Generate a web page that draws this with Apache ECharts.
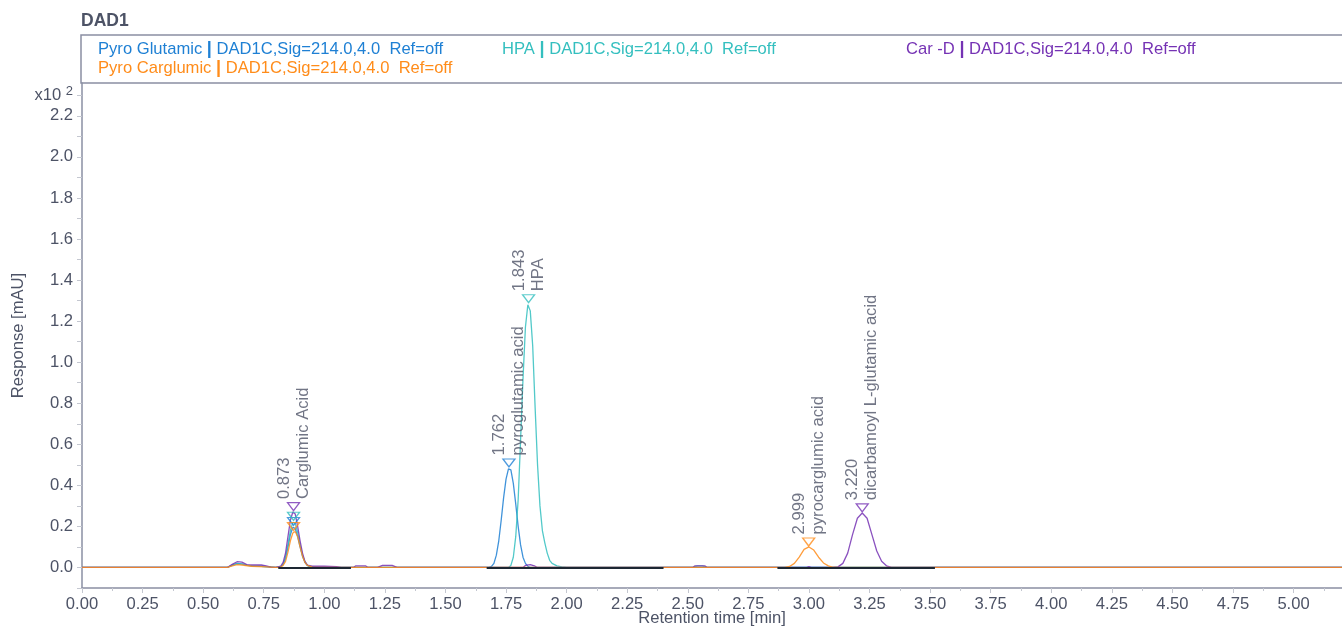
<!DOCTYPE html>
<html>
<head>
<meta charset="utf-8">
<title>DAD1</title>
<script src="https://cdn.jsdelivr.net/npm/echarts@6/dist/echarts.min.js"></script>
<style>
	html, body { margin: 0; padding: 0; background: #fff; }
	#chart { width: 1342px; height: 627px; }
</style>
</head>
<body>
<div id="chart"></div>
<script>
/*数据*/
// 保留时间 [min], 响应 [x10^2 mAU]
var pyroGlutamic = [
	[0, 0], [0.60, 0], [0.62, 0.012], [0.64, 0.02], [0.66, 0.018], [0.68, 0.01], [0.70, 0.008], [0.74, 0.006], [0.78, 0.002], [0.80, 0],
	[0.82, 0.004], [0.83, 0.015], [0.84, 0.045], [0.85, 0.10], [0.86, 0.16], [0.87, 0.195], [0.875, 0.20], [0.88, 0.19], [0.89, 0.15],
	[0.90, 0.10], [0.91, 0.055], [0.92, 0.025], [0.93, 0.01], [0.94, 0.003], [0.96, 0],
	[1.68, 0], [1.69, 0.005], [1.70, 0.02], [1.71, 0.06], [1.72, 0.13], [1.73, 0.23], [1.74, 0.34], [1.75, 0.43], [1.76, 0.48],
	[1.765, 0.485], [1.77, 0.475], [1.78, 0.41], [1.79, 0.31], [1.80, 0.20], [1.81, 0.11], [1.82, 0.05], [1.83, 0.02], [1.84, 0.006], [1.85, 0],
	[5.2, 0]
];
var hpa = [
	[0, 0], [0.60, 0], [0.62, 0.01], [0.64, 0.018], [0.66, 0.016], [0.70, 0.008], [0.76, 0.004], [0.80, 0],
	[0.82, 0.003], [0.83, 0.015], [0.84, 0.05], [0.85, 0.11], [0.86, 0.18], [0.87, 0.22], [0.875, 0.225], [0.88, 0.215], [0.89, 0.17],
	[0.90, 0.11], [0.91, 0.06], [0.92, 0.028], [0.93, 0.01], [0.95, 0.002], [0.97, 0],
	[1.76, 0], [1.77, 0.01], [1.78, 0.05], [1.79, 0.15], [1.80, 0.33], [1.81, 0.62], [1.82, 0.92], [1.83, 1.17], [1.84, 1.28],
	[1.845, 1.285], [1.85, 1.25], [1.86, 1.08], [1.87, 0.78], [1.88, 0.50], [1.89, 0.30], [1.90, 0.18], [1.91, 0.12], [1.92, 0.07],
	[1.93, 0.035], [1.94, 0.02], [1.96, 0.008], [1.98, 0.003], [2.00, 0],
	[2.52, 0], [2.54, 0.008], [2.56, 0.008], [2.58, 0],
	[5.2, 0]
];
var carD = [
	[0, 0], [0.60, 0], [0.62, 0.015], [0.64, 0.028], [0.66, 0.026], [0.68, 0.014], [0.70, 0.012], [0.74, 0.012], [0.76, 0.008], [0.78, 0.002], [0.80, 0],
	[0.82, 0.006], [0.83, 0.025], [0.84, 0.07], [0.85, 0.15], [0.86, 0.23], [0.87, 0.27], [0.875, 0.272], [0.88, 0.26], [0.89, 0.20],
	[0.90, 0.13], [0.91, 0.07], [0.92, 0.03], [0.93, 0.012], [0.95, 0.006], [1.00, 0.006], [1.05, 0.004], [1.07, 0],
	[1.12, 0], [1.13, 0.008], [1.17, 0.008], [1.18, 0], [1.22, 0], [1.24, 0.01], [1.28, 0.01], [1.30, 0],
	[1.82, 0], [1.83, 0.01], [1.85, 0.014], [1.87, 0.006], [1.88, 0],
	[2.52, 0], [2.53, 0.008], [2.57, 0.008], [2.58, 0], [2.99, 0], [3.00, 0.004], [3.01, 0],
	[3.10, 0], [3.12, 0.003], [3.14, 0.02], [3.16, 0.07], [3.18, 0.16], [3.20, 0.24], [3.22, 0.265], [3.24, 0.24], [3.26, 0.16],
	[3.28, 0.08], [3.30, 0.03], [3.32, 0.008], [3.34, 0],
	[5.2, 0]
];
var pyroCarglumic = [
	[0, 0], [0.60, 0], [0.62, 0.008], [0.64, 0.014], [0.66, 0.012], [0.70, 0.006], [0.76, 0.003], [0.80, 0],
	[0.82, 0.002], [0.83, 0.01], [0.84, 0.03], [0.85, 0.075], [0.86, 0.13], [0.87, 0.168], [0.88, 0.175], [0.89, 0.15],
	[0.90, 0.10], [0.91, 0.055], [0.92, 0.025], [0.93, 0.01], [0.95, 0.002], [0.97, 0],
	[2.90, 0], [2.92, 0.005], [2.94, 0.02], [2.96, 0.05], [2.98, 0.088], [3.00, 0.10], [3.02, 0.085], [3.04, 0.05],
	[3.06, 0.022], [3.08, 0.008], [3.10, 0.001], [3.12, 0],
	[5.2, 0]
];

// 峰标记: [保留时间, 峰高, 名称]
var peaksPyroGlutamic = [[0.873, 0.20, ''], [1.762, 0.485, 'pyroglutamic acid']];
var peaksHPA = [[0.873, 0.225, ''], [1.843, 1.285, 'HPA']];
var peaksCarD = [[0.873, 0.272, 'Carglumic Acid'], [3.220, 0.266, 'dicarbamoyl L-glutamic acid']];
var peaksPyroCarglumic = [[0.873, 0.175, ''], [2.999, 0.10, 'pyrocarglumic acid']];

// 积分基线 [起点, 终点]
var baselineSegs = [[0.81, 1.11], [1.67, 2.40], [2.87, 3.52]];

var seriesNames = ['Pyro Glutamic', 'HPA', 'Car -D', 'Pyro Carglumic'];
var signalText = 'DAD1C,Sig=214.0,4.0  Ref=off';

var xTicks = { min: 0, max: 5.2, step: 0.25 };
var yTicks = { min: -0.1, max: 2.36, step: 0.1 };

/*样式*/
var colors = ['#1f80d4', '#34bfbf', '#7532b4', '#ff8c1a'];
var grayText = '#4d5366';
var axisGray = '#8a8fa3';
var fontFam = 'Liberation Sans, Arial, sans-serif';
var fs = 16.6;

function peakSeries(name, data, color) {
	return {
		name: name,
		type: 'scatter',
		data: data,
		symbol: 'path://M0,0 L12,0 L6,8 Z',
		symbolSize: [12, 8],
		symbolOffset: [0, -5],
		itemStyle: { color: 'rgba(255,255,255,0)', borderColor: color, borderWidth: 1.3 },
		label: {
			show: true,
			position: 'top',
			distance: 3,
			rotate: 90,
			align: 'left',
			verticalAlign: 'middle',
			color: grayText,
			fontSize: fs,
			lineHeight: 19,
			fontFamily: fontFam,
			formatter: function (p) {
				if (!p.data[2]) return '';
				return p.data[0].toFixed(3) + '\n' + p.data[2];
			}
		},
		silent: true,
		z: 5
	};
}

function traceSeries(name, data, color) {
	return {
		name: name,
		type: 'line',
		data: data,
		showSymbol: false,
		symbol: 'none',
		lineStyle: { color: color, width: 1.3, opacity: 0.85 },
		itemStyle: { color: color },
		silent: true
	};
}

var baseMarks = baselineSegs.map(function (s) {
	return [{ coord: [s[0], 0] }, { coord: [s[1], 0] }];
});

var legendPos = [[93, 40], [497, 40], [901, 40], [93, 59]];
var legends = seriesNames.map(function (n, i) {
	return {
		data: [n],
		left: legendPos[i][0],
		top: legendPos[i][1],
		icon: 'none',
		itemWidth: 0,
		itemHeight: 18,
		padding: 0,
		selectedMode: false,
		formatter: function (name) { return name + ' {b||} ' + signalText; },
		textStyle: {
			color: colors[i],
			fontSize: fs,
			fontFamily: fontFam,
			rich: { b: { fontSize: 18, fontWeight: 'bold', color: colors[i] } }
		}
	};
});

var option = {
	animation: false,
	backgroundColor: '#fff',
	title: {
		text: 'DAD1',
		left: 81,
		top: 12,
		padding: 0,
		textStyle: { color: grayText, fontSize: 17.5, fontWeight: 'bold', fontFamily: fontFam }
	},
	legend: legends,
	graphic: [{
		type: 'rect',
		shape: { x: 81, y: 35, width: 1280, height: 48 },
		style: { fill: 'none', stroke: axisGray, lineWidth: 1.5 },
		silent: true
	}],
	grid: { left: 82, right: 0, top: 83, bottom: 39, outerBoundsMode: 'none', containLabel: false },
	xAxis: {
		type: 'value',
		min: xTicks.min,
		max: xTicks.max,
		interval: xTicks.step,
		name: 'Retention time [min]',
		nameLocation: 'middle',
		nameGap: 22,
		nameMoveOverlap: false,
		nameTextStyle: { color: grayText, fontSize: fs, fontFamily: fontFam },
		axisLine: { onZero: false, lineStyle: { color: axisGray, width: 1.5 } },
		axisTick: { show: true, length: 5, lineStyle: { color: '#c4c7d0' } },
		minorTick: { show: true, splitNumber: 2, length: 3, lineStyle: { color: '#c4c7d0' } },
		splitLine: { show: false },
		axisLabel: {
			color: grayText,
			fontSize: fs,
			margin: 8,
			showMaxLabel: false,
			fontFamily: fontFam,
			formatter: function (v) {
				var k = v / xTicks.step;
				if (Math.abs(k - Math.round(k)) > 1e-6) return '';
				return v.toFixed(2);
			}
		}
	},
	yAxis: {
		type: 'value',
		min: yTicks.min,
		max: yTicks.max,
		interval: yTicks.step,
		name: 'Response [mAU]',
		nameLocation: 'middle',
		nameGap: 55,
		nameMoveOverlap: false,
		nameTextStyle: { color: grayText, fontSize: fs, fontFamily: fontFam },
		axisLine: { show: true, onZero: false, lineStyle: { color: axisGray, width: 1.5 } },
		axisTick: { show: true, length: 5, lineStyle: { color: '#c4c7d0' } },
		splitLine: { show: false },
		axisLabel: {
			color: grayText,
			fontSize: fs,
			margin: 9,
			showMaxLabel: false,
			fontFamily: fontFam,
			formatter: function (v) {
				var k = Math.round(v * 10);
				if (Math.abs(v * 10 - k) > 1e-6) return '';
				if (k === 23) return 'x10 {s|2}';
				if (k >= 0 && k <= 22 && k % 2 === 0) return (k / 10).toFixed(1);
				return '';
			},
			rich: { s: { fontSize: 13, color: grayText, padding: [0, 0, 8, 0] } }
		}
	},
	series: [
		traceSeries(seriesNames[0], pyroGlutamic, colors[0]),
		traceSeries(seriesNames[1], hpa, colors[1]),
		traceSeries(seriesNames[2], carD, colors[2]),
		traceSeries(seriesNames[3], pyroCarglumic, colors[3]),
		{
			name: 'baseline',
			type: 'line',
			data: [],
			silent: true,
			markLine: {
				silent: true,
				symbol: 'none',
				label: { show: false },
				lineStyle: { color: '#1d2733', width: 2, type: 'solid' },
				data: baseMarks
			}
		},
		peakSeries(seriesNames[0], peaksPyroGlutamic, colors[0]),
		peakSeries(seriesNames[1], peaksHPA, colors[1]),
		peakSeries(seriesNames[2], peaksCarD, colors[2]),
		peakSeries(seriesNames[3], peaksPyroCarglumic, colors[3])
	]
};

var chart = echarts.init(document.getElementById('chart'));
chart.setOption(option);
</script>
</body>
</html>
